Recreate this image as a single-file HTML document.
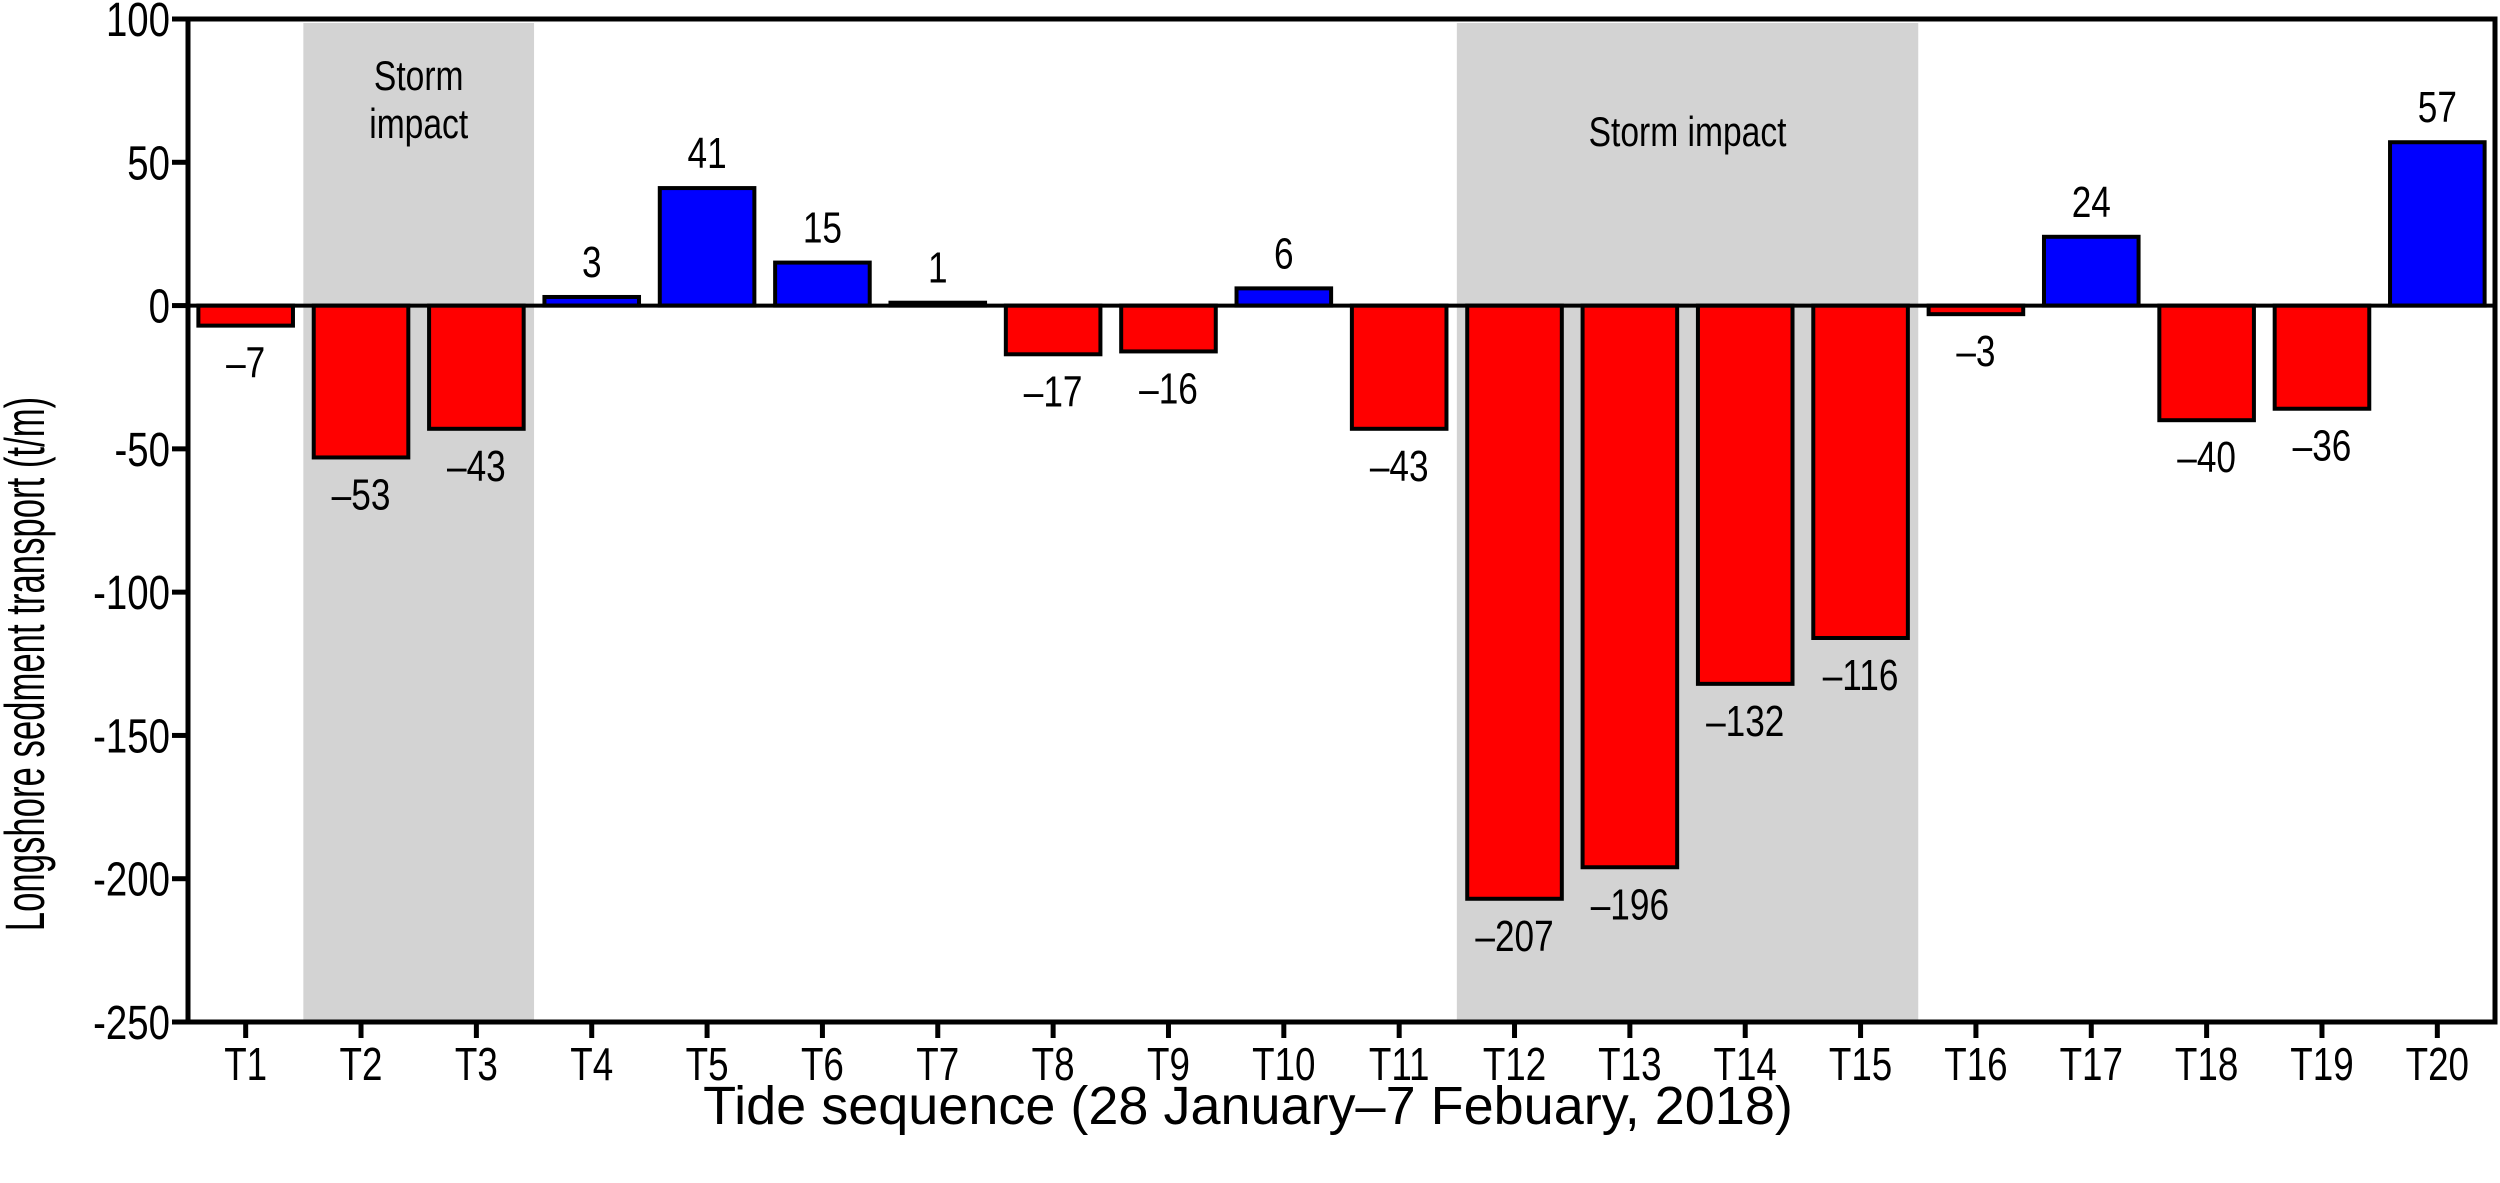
<!DOCTYPE html>
<html><head><meta charset="utf-8"><style>
html,body{margin:0;padding:0;background:#fff;}
svg{display:block;font-family:"Liberation Sans",Arial,sans-serif;}
</style></head><body>
<svg id="chart" width="2500" height="1183" viewBox="0 0 2500 1183" xmlns="http://www.w3.org/2000/svg">
<g id="shade"></g>
<g id="bars"></g>
<g id="axes"></g>
<g id="labels"></g>
<text x="0" y="0" transform="translate(44,664) rotate(-90) scale(0.62,1)" text-anchor="middle" font-size="56">Longshore sedment transport (t/m)</text>
<text x="0" y="0" transform="translate(1248,1124) scale(1.0,1)" text-anchor="middle" font-size="54">Tide sequence (28 January–7 Febuary, 2018)</text>
</svg>
<script>
const categories = ["T1","T2","T3","T4","T5","T6","T7","T8","T9","T10","T11","T12","T13","T14","T15","T16","T17","T18","T19","T20"];
const values = [-7,-53,-43,3,41,15,1,-17,-16,6,-43,-207,-196,-132,-116,-3,24,-40,-36,57];
const yTicks = [100,50,0,-50,-100,-150,-200,-250];
const stormStart = [1,11];
const stormEnd = [2,14];
const stormText = [["Storm","impact"],["Storm impact"]];

const NS="http://www.w3.org/2000/svg";
const L=188,R=2495,T=19,B=1022,YMAX=100,YMIN=-250;
const SX=0.8;
const band=(R-L)/categories.length;
function y(v){return T+(YMAX-v)*(B-T)/(YMAX-YMIN);}
function xc(i){return L+band*(i+0.5);}
function mk(tag,attrs,parent){const e=document.createElementNS(NS,tag);for(const k in attrs)e.setAttribute(k,attrs[k]);parent.appendChild(e);return e;}
function txt(x,yy,s,size,anchor,parent){const e=mk('text',{x:0,y:0,transform:'translate('+x+','+yy+') scale('+SX+',1)','text-anchor':anchor,'font-size':size},parent);e.textContent=s;return e;}
const shade=document.getElementById('shade'),bars=document.getElementById('bars'),axes=document.getElementById('axes'),labels=document.getElementById('labels');

stormStart.forEach((s,k)=>{
  const x0=L+band*s,x1=L+band*(stormEnd[k]+1);
  const r=mk('rect',{x:x0,y:T+4,width:x1-x0,height:B-T-4,fill:'#d3d3d3'},shade);
  
  
  const lines=stormText[k];
  lines.forEach((t,j)=>{
    const tx=txt((x0+x1)/2,lines.length>1?90+j*48:146,t,42,'middle',shade);
    
    
  });
});

values.forEach((v,i)=>{
  const w=band*0.82;
  const y0=y(0),y1=y(v);
  const r=mk('rect',{x:xc(i)-w/2,y:Math.min(y0,y1),width:w,height:Math.max(Math.abs(y1-y0),1),fill:v>=0?'#0000ff':'#ff0000',stroke:'#000','stroke-width':4},bars);
  
  
  const t=txt(xc(i),v>=0?y1-20:y1+52,v<0?'\u2013'+Math.abs(v):String(v),44,'middle',labels);
  
  
});

const fr=mk('rect',{x:L,y:T,width:R-L,height:B-T,fill:'none',stroke:'#000','stroke-width':5},axes);


const zl=mk('line',{x1:L,x2:R,y1:y(0),y2:y(0),stroke:'#000','stroke-width':4},axes);


yTicks.forEach(v=>{
  const ln=mk('line',{x1:L-16,x2:L,y1:y(v),y2:y(v),stroke:'#000','stroke-width':5},axes);
  
  
  const t=txt(L-18,y(v)+17,String(v),48,'end',axes);
  
  
});
categories.forEach((c,i)=>{
  const ln=mk('line',{x1:xc(i),x2:xc(i),y1:B,y2:B+16,stroke:'#000','stroke-width':5},axes);
  
  
  const t=txt(xc(i),B+58,c,46,'middle',axes);
  
  
});
</script>
</body></html>
